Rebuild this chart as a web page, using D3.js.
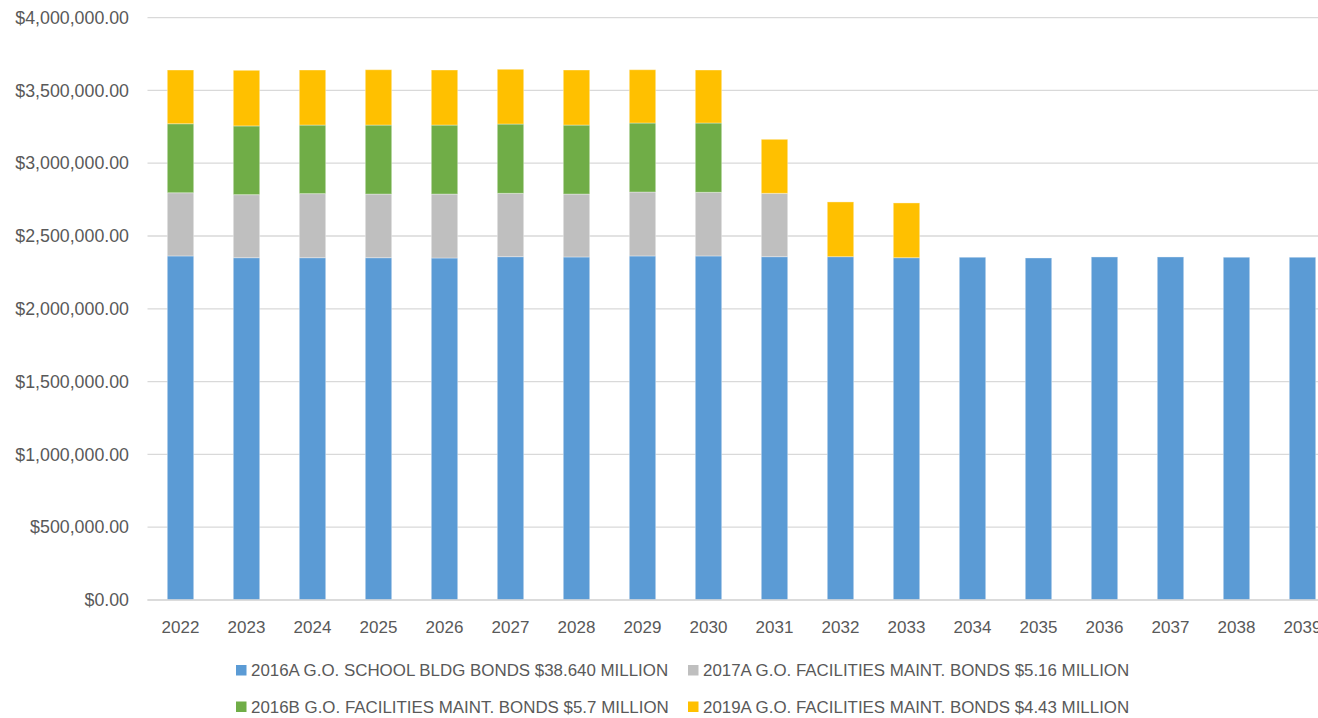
<!DOCTYPE html>
<html><head><meta charset="utf-8">
<script src="https://cdn.jsdelivr.net/npm/d3@7"></script>
<style>html,body{margin:0;padding:0;background:#fff;overflow:hidden}</style>
</head><body>
<svg id="chart" width="1318" height="718"></svg>
<script>
const years = ["2022","2023","2024","2025","2026","2027","2028","2029","2030","2031","2032","2033","2034","2035","2036","2037","2038","2039"];
const seriesNames = [
  "2016A G.O. SCHOOL BLDG BONDS $38.640 MILLION",
  "2017A G.O. FACILITIES MAINT. BONDS $5.16 MILLION",
  "2016B G.O. FACILITIES MAINT. BONDS $5.7 MILLION",
  "2019A G.O. FACILITIES MAINT. BONDS $4.43 MILLION"
];
const bonds2016A = [2363000,2351000,2351000,2351000,2349000,2358000,2356000,2363000,2363000,2358000,2358000,2351000,2354000,2349000,2356000,2356000,2354000,2354000];
const bonds2017A = [434000,433000,440000,437000,439000,435000,432000,439000,437000,435000,0,0,0,0,0,0,0,0];
const bonds2016B = [474000,472000,471000,474000,474000,476000,474000,474000,476000,0,0,0,0,0,0,0,0,0];
const bonds2019A = [369000,382000,378000,380000,378000,376000,378000,366000,364000,371000,376000,376000,0,0,0,0,0,0];
const yTicks = [0,500000,1000000,1500000,2000000,2500000,3000000,3500000,4000000];
const colors = ["#5B9BD5","#BFBFBF","#70AD47","#FFC000"];

const keys = ["a16","a17","b16","a19"];
const table = years.map((y,i)=>({year:y,a16:bonds2016A[i],a17:bonds2017A[i],b16:bonds2016B[i],a19:bonds2019A[i]}));
const stacked = d3.stack().keys(keys)(table);

const svg = d3.select("#chart");
const font = "'Liberation Sans', Arial, sans-serif";
const x = d3.scaleBand().domain(years).range([147.5, 147.5 + 66*years.length]).paddingInner(0.6).paddingOuter(0.3);
const y = d3.scaleLinear().domain([0,4000000]).range([600, 17.6]);

// gridlines
svg.append("g").selectAll("line").data(yTicks).join("line")
  .attr("x1",147.5).attr("x2",1318)
  .attr("y1",d=>y(d)).attr("y2",d=>y(d))
  .attr("stroke","#d9d9d9").attr("stroke-width",1.3);

// y labels
const fmt = d => "$" + d3.format(",.2f")(d);
svg.append("g").selectAll("text").data(yTicks).join("text")
  .attr("x",129).attr("y",d=>y(d)).attr("dy","0.35em")
  .attr("text-anchor","end").attr("font-family",font).attr("font-size",17.8)
  .attr("fill","#595959").text(fmt);

// bars
svg.append("g").selectAll("g").data(stacked).join("g")
  .attr("fill",(d,i)=>colors[i])
  .selectAll("rect").data(d=>d.filter(s=>s[1]-s[0]>0)).join("rect")
  .attr("x",d=>x(d.data.year)).attr("width",x.bandwidth())
  .attr("y",d=>y(d[1])).attr("height",d=>y(d[0])-y(d[1]))
  .attr("stroke","#ffffff").attr("stroke-opacity",0.35).attr("stroke-width",1);

// x axis line
svg.append("line").attr("x1",147.5).attr("x2",1318).attr("y1",600).attr("y2",600)
  .attr("stroke","#d9d9d9").attr("stroke-width",1.3);

// x labels
svg.append("g").selectAll("text").data(years).join("text")
  .attr("x",d=>x(d)+x.bandwidth()/2).attr("y",627).attr("dy","0.35em")
  .attr("text-anchor","middle").attr("font-family",font).attr("font-size",17)
  .attr("fill","#595959").text(d=>d);

// legend
const legendPos = [[236,670.5],[688,670.5],[236,707],[688,707]];
const lg = svg.append("g").selectAll("g").data(seriesNames).join("g")
  .attr("transform",(d,i)=>`translate(${legendPos[i][0]},${legendPos[i][1]})`);
lg.append("rect").attr("x",0).attr("y",-5.5).attr("width",10.5).attr("height",10.5).attr("fill",(d,i)=>colors[i]);
lg.append("text").attr("x",15).attr("y",0).attr("dy","0.35em")
  .attr("font-family",font).attr("font-size",16.9).attr("fill","#595959").text(d=>d);
</script>
</body></html>
